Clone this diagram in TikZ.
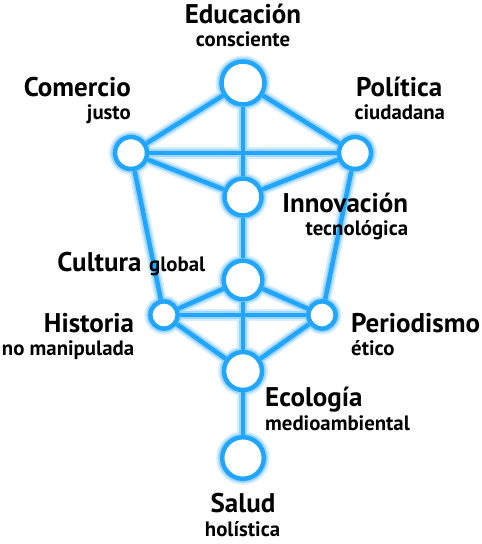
\documentclass[tikz,border=0pt]{standalone}
\usepackage{fontspec}
\setmainfont{PT Sans}
\definecolor{hubblue}{RGB}{33,166,255}
\definecolor{glowA}{RGB}{215,238,255}
\definecolor{glowB}{RGB}{160,214,255}
\pgfdeclarelayer{glow}
\pgfdeclarelayer{links}
\pgfsetlayers{glow,links,main}
\tikzset{
  hub/.style={circle, draw=hubblue, fill=white, line width=4.5pt, inner sep=0pt},
  link/.style={draw=hubblue, line width=4.5pt},
  glowwide/.style={draw=glowA, line width=12pt},
  glownarrow/.style={draw=glowB, line width=8pt},
  title/.style={font=\bfseries\fontsize{27}{27}\selectfont, inner sep=0pt},
  sub/.style={font=\bfseries\fontsize{20.8}{21}\selectfont, inner sep=0pt},
}
\def\hubs{edu/243/83/21.5, com/131/153/16, pol/355/153/16, inn/243/197/18.5, cul/243/280/19.3, his/164/315/13.6, per/322/315/13.6, eco/243/371/19, sal/243/458/20.8}
\def\links{edu/com, edu/pol, edu/inn, com/pol, com/inn, pol/inn, com/his, pol/per, inn/cul, cul/his, cul/per, cul/eco, his/per, his/eco, per/eco, eco/sal}
\begin{document}
\begin{tikzpicture}[x=1pt,y=-1pt]
\useasboundingbox (0,0) rectangle (482,544);
\foreach \n/\x/\y/\r in \hubs {
  \node[hub, minimum size={2*\r pt}] (\n) at (\x,\y) {};
}
\begin{pgfonlayer}{links}
\foreach \a/\b in \links { \draw[link] (\a) -- (\b); }
\end{pgfonlayer}
\begin{pgfonlayer}{glow}
\foreach \a/\b in \links { \draw[glowwide] (\a.center) -- (\b.center); }
\foreach \n/\x/\y/\r in \hubs { \draw[glowwide] (\n.center) circle[radius={\r pt}]; }
\foreach \a/\b in \links { \draw[glownarrow] (\a.center) -- (\b.center); }
\foreach \n/\x/\y/\r in \hubs { \draw[glownarrow] (\n.center) circle[radius={\r pt}]; }
\end{pgfonlayer}
% labels
\node[title, anchor=base] (tedu) at (243,23.3) {Educación};
\node[sub, anchor=base] (sedu) at (243,46.7) {consciente};
\node[title, anchor=base east] (tcom) at (131,96.7) {Comercio};
\node[sub, anchor=base east] (scom) at (131,119.3) {justo};
\node[title, anchor=base west] (tpol) at (356,96.7) {Política};
\node[sub, anchor=base west] (spol) at (354.3,119.3) {ciudadana};
\node[title, anchor=base east] (tinn) at (408.3,212.3) {Innovación};
\node[sub, anchor=base east] (sinn) at (408.3,235) {tecnológica};
\node[title, anchor=base east] (tcul) at (141.7,271.7) {Cultura};
\node[sub, anchor=base west] (scul) at (149,271.7) {global};
\node[title, anchor=base east] (this) at (134.3,332.7) {Historia};
\node[sub, anchor=base east] (shis) at (134.3,355.5) {no manipulada};
\node[title, anchor=base west] (tper) at (351,332.7) {Periodismo};
\node[sub, anchor=base west] (sper) at (351,355.5) {ético};
\node[title, anchor=base west] (teco) at (265,406.7) {Ecología};
\node[sub, anchor=base west] (seco) at (265,430) {medioambiental};
\node[title, anchor=base] (tsal) at (243,512.7) {Salud};
\node[sub, anchor=base] (ssal) at (242.5,536) {holística};
\end{tikzpicture}
\end{document}
